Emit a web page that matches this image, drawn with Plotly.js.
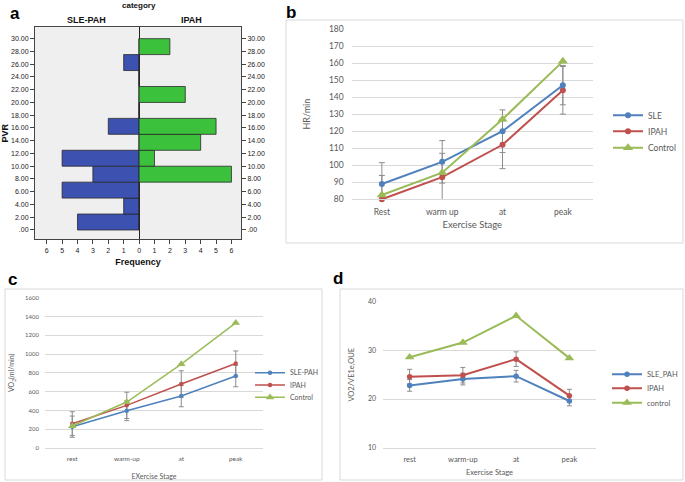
<!DOCTYPE html>
<html>
<head>
<meta charset="utf-8">
<script src="https://cdn.plot.ly/plotly-3.0.1.min.js"></script>
<style>html,body{margin:0;padding:0;background:#fff;}#chart{width:685px;height:482px;}</style>
</head>
<body>
<div id="chart"></div>
<script>
// ---------- Panel a: PVR population pyramid ----------
const pvrBinCenters = [1.25, 3.75, 6.25, 8.75, 11.25, 13.75, 16.25, 18.75, 21.25, 23.75, 26.25, 28.75];
const pvrBinWidth = 2.5;
const pvrSLE  = [4, 1, 5, 3, 5, 0, 2, 0, 0, 0, 1, 0];
const pvrIPAH = [0, 0, 0, 6, 1, 4, 5, 0, 3, 0, 0, 2];
const pvrTickVals = [0, 2, 4, 6, 8, 10, 12, 14, 16, 18, 20, 22, 24, 26, 28, 30];
const pvrTickText = ['.00','2.00','4.00','6.00','8.00','10.00','12.00','14.00','16.00','18.00','20.00','22.00','24.00','26.00','28.00','30.00'];
const freqTickVals = [-6,-5,-4,-3,-2,-1,0,1,2,3,4,5,6];
const freqTickText = ['6','5','4','3','2','1','0','1','2','3','4','5','6'];

// ---------- Panel b: HR ----------
const stagesB = ['Rest', 'warm up', 'at', 'peak'];
const hrSLE = [89, 102, 120, 147];
const hrSLEerr = [12.5, 12.5, 12.5, 11.5];
const hrIPAH = [80, 93, 112, 144];
const hrIPAHerr = [14, 14, 14, 14];
const hrControl = [82.5, 95.6, 127, 161];

// ---------- Panel c: VO2 ----------
const stagesC = ['rest', 'warm-up', 'at', 'peak'];
const vo2SLE = [227, 397, 553, 766];
const vo2SLEerr = [113, 106, 114, 114];
const vo2IPAH = [259, 454, 681, 899];
const vo2IPAHerr = [127, 140, 141, 134];
const vo2Control = [234, 489, 894, 1333];

// ---------- Panel d: VO2/VE ----------
const stagesD = ['rest', 'warm-up', 'at', 'peak'];
const veSLE = [22.8, 24.1, 24.7, 19.6];
const veSLEerr = [1.2, 1.2, 1.2, 1.0];
const veIPAH = [24.6, 24.9, 28.2, 20.7];
const veIPAHerr = [1.5, 1.6, 1.5, 1.3];
const veControl = [28.6, 31.6, 37.1, 28.4];

const W = 685, H = 482;
const px = v => v / W;
const py = v => 1 - v / H;

const BLUE = '#4F81BD', RED = '#C0504D', GREEN = '#9BBB59', ERR = '#8C8C8C';
const XL = 'Lato, "Liberation Sans", sans-serif';
const AR = '"Liberation Sans", Arial, sans-serif';
const TXT = '#595959';

function errTrace(xa, ya, x, y, e, cap) {
  return {type: 'scatter', mode: 'markers', xaxis: xa, yaxis: ya, x: x, y: y,
    marker: {size: 1, opacity: 0}, showlegend: false, hoverinfo: 'skip', cliponaxis: true,
    error_y: {type: 'data', array: e, visible: true, color: ERR, thickness: 1, width: cap}};
}
function lineTrace(xa, ya, x, y, name, color, sym, size, lw, leg) {
  return {type: 'scatter', mode: 'lines+markers', xaxis: xa, yaxis: ya, x: x, y: y, name: name,
    line: {color: color, width: lw}, marker: {color: color, symbol: sym, size: size},
    cliponaxis: false, legend: leg};
}

const data = [
  // panel a
  {type: 'bar', orientation: 'h', xaxis: 'x', yaxis: 'y', y: pvrBinCenters, x: pvrSLE.map(v => -v),
   width: pvrBinWidth, name: 'SLE-PAH', showlegend: false,
   marker: {color: '#3D51B0', line: {color: '#2a2a2a', width: 0.8}}},
  {type: 'bar', orientation: 'h', xaxis: 'x', yaxis: 'y', y: pvrBinCenters, x: pvrIPAH,
   width: pvrBinWidth, name: 'IPAH', showlegend: false,
   marker: {color: '#3CC13C', line: {color: '#2a2a2a', width: 0.8}}},
  {type: 'scatter', mode: 'markers', xaxis: 'x', yaxis: 'y2', x: [null], y: [null], showlegend: false, hoverinfo: 'skip'},
  // panel b
  errTrace('x2', 'y3', stagesB, hrSLE, hrSLEerr, 3),
  errTrace('x2', 'y3', stagesB, hrIPAH, hrIPAHerr, 3),
  lineTrace('x2', 'y3', stagesB, hrIPAH, 'IPAH', RED, 'circle', 6, 2, 'legend2'),
  lineTrace('x2', 'y3', stagesB, hrSLE, 'SLE', BLUE, 'circle', 6, 2, 'legend'),
  lineTrace('x2', 'y3', stagesB, hrControl, 'Control', GREEN, 'triangle-up', 9, 2, 'legend3'),
  // panel c
  errTrace('x3', 'y4', stagesC, vo2SLE, vo2SLEerr, 2.5),
  errTrace('x3', 'y4', stagesC, vo2IPAH, vo2IPAHerr, 2.5),
  lineTrace('x3', 'y4', stagesC, vo2SLE, 'SLE-PAH', BLUE, 'circle', 4.5, 1.5, 'legend4'),
  lineTrace('x3', 'y4', stagesC, vo2IPAH, 'IPAH', RED, 'circle', 4.5, 1.5, 'legend5'),
  lineTrace('x3', 'y4', stagesC, vo2Control, 'Control', GREEN, 'triangle-up', 7.5, 1.5, 'legend6'),
  // panel d
  errTrace('x4', 'y5', stagesD, veSLE, veSLEerr, 2.5),
  errTrace('x4', 'y5', stagesD, veIPAH, veIPAHerr, 2.5),
  lineTrace('x4', 'y5', stagesD, veSLE, 'SLE_PAH', BLUE, 'circle', 5.5, 2, 'legend7'),
  lineTrace('x4', 'y5', stagesD, veIPAH, 'IPAH', RED, 'circle', 5.5, 2, 'legend8'),
  lineTrace('x4', 'y5', stagesD, veControl, 'control', GREEN, 'triangle-up', 8.5, 2, 'legend9')
];

function leg(x, y, size) {
  return {x: px(x), y: py(y), xanchor: 'left', yanchor: 'middle', bgcolor: 'rgba(0,0,0,0)',
    borderwidth: 0, font: {family: XL, size: size, color: TXT}, itemclick: false, itemdoubleclick: false};
}

function catAxis(domain, anchor, size, standoff, title, tsize) {
  return {domain: domain, anchor: anchor, type: 'category', range: [-0.5, 3.5], showgrid: false,
    showline: true, linecolor: '#D9D9D9', linewidth: 1, ticks: '', zeroline: false, fixedrange: true,
    tickfont: {family: XL, size: size, color: TXT}, ticklabelstandoff: 4,
    title: {text: title, standoff: standoff, font: {family: XL, size: tsize, color: TXT}}};
}
function valAxis(domain, anchor, range, dtick, size, standoff, title, tsize, tls) {
  return {domain: domain, anchor: anchor, range: range, dtick: dtick, showgrid: true, gridcolor: '#D9D9D9',
    gridwidth: 1, showline: false, zeroline: false, ticks: '', fixedrange: true,
    tickfont: {family: XL, size: size, color: TXT}, ticklabelstandoff: tls,
    title: {text: title, standoff: standoff, font: {family: XL, size: tsize, color: TXT}}};
}
function ann(text, x, y, size, color, bold) {
  return {text: text, x: px(x), y: py(y), xref: 'paper', yref: 'paper', xanchor: 'center', yanchor: 'middle',
    showarrow: false, font: {family: AR, size: size, color: color, weight: bold ? 'bold' : 'normal'}};
}

const layout = {
  width: W, height: H, margin: {l: 0, r: 0, t: 0, b: 0},
  paper_bgcolor: '#ffffff', plot_bgcolor: 'rgba(0,0,0,0)',
  barmode: 'relative', bargap: 0, showlegend: true, hovermode: false,
  // panel a
  xaxis: {domain: [px(35), px(241)], anchor: 'y', range: [-6.76, 6.62], tickvals: freqTickVals, ticktext: freqTickText,
    ticks: 'outside', ticklen: 4, tickcolor: '#444', showline: true, linecolor: '#444', linewidth: 1, mirror: true,
    zeroline: true, zerolinecolor: '#222', zerolinewidth: 1, showgrid: false, fixedrange: true,
    tickfont: {family: AR, size: 7, color: '#222'},
    title: {text: 'Frequency', standoff: 5, font: {family: AR, size: 9, color: '#111', weight: 'bold'}}},
  yaxis: {domain: [py(239.3), py(27.3)], anchor: 'x', range: [-1.46, 31.78], tickvals: pvrTickVals, ticktext: pvrTickText,
    ticks: 'outside', ticklen: 4, tickcolor: '#444', showline: true, linecolor: '#444', linewidth: 1,
    showgrid: false, zeroline: false, fixedrange: true, tickfont: {family: AR, size: 7, color: '#222'},
    title: {text: 'PVR', standoff: 4, font: {family: AR, size: 9, color: '#111', weight: 'bold'}}},
  yaxis2: {overlaying: 'y', side: 'right', anchor: 'x', range: [-1.46, 31.78], tickvals: pvrTickVals, ticktext: pvrTickText,
    ticks: 'outside', ticklen: 4, tickcolor: '#444', showline: true, linecolor: '#444', linewidth: 1,
    showgrid: false, zeroline: false, fixedrange: true, tickfont: {family: AR, size: 7, color: '#222'}},
  // panel b
  xaxis2: catAxis([px(351.7), px(593)], 'y3', 8.5, 5, 'Exercise Stage', 9.5),
  yaxis3: valAxis([py(199.3), py(29)], 'x2', [80, 180], 10, 8.5, 16, 'HR/min', 9, 7),
  // panel c
  xaxis3: catAxis([px(45), px(263)], 'y4', 6.5, 13, 'EXercise Stage', 7),
  yaxis4: valAxis([py(448), py(297.7)], 'x3', [0, 1600], 200, 6, 9, 'VO<sub>2</sub>(ml/min)', 7, 5),
  // panel d
  xaxis4: catAxis([px(383), px(596)], 'y5', 7.5, 7, 'Exercise Stage', 7.5),
  yaxis5: valAxis([py(447.7), py(301.7)], 'x4', [10, 40], 10, 7, 12, 'VO2/VE1e,OUE', 7.5, 6),
  legend: leg(608, 115.3, 8.5),
  legend2: leg(608, 131.3, 8.5),
  legend3: leg(608, 147.7, 8.5),
  legend4: leg(250, 372.7, 7),
  legend5: leg(250, 385, 7),
  legend6: leg(250, 397.3, 7),
  legend7: leg(607, 374.3, 7.5),
  legend8: leg(607, 388.3, 7.5),
  legend9: leg(607, 402.7, 7.5),
  shapes: [
    {type: 'rect', xref: 'paper', yref: 'paper', x0: px(35), x1: px(241), y0: py(239.3), y1: py(27.3),
     fillcolor: '#EFEFEF', line: {width: 0}, layer: 'below'},
    {type: 'rect', xref: 'paper', yref: 'paper', x0: px(286), x1: px(683), y0: py(243), y1: py(20),
     line: {color: '#D9D9D9', width: 1}, layer: 'below'},
    {type: 'rect', xref: 'paper', yref: 'paper', x0: px(5), x1: px(322), y0: py(480), y1: py(289),
     line: {color: '#D9D9D9', width: 1}, layer: 'below'},
    {type: 'rect', xref: 'paper', yref: 'paper', x0: px(340), x1: px(683), y0: py(480), y1: py(289),
     line: {color: '#D9D9D9', width: 1}, layer: 'below'}
  ],
  annotations: [
    ann('a', 15, 13, 17, '#000', true),
    ann('b', 291, 12, 17, '#000', true),
    ann('c', 12, 279, 17, '#000', true),
    ann('d', 338, 278, 17, '#000', true),
    ann('category', 139, 5.5, 8, '#111', true),
    ann('SLE-PAH', 87, 20.5, 9, '#111', true),
    ann('IPAH', 191, 20.5, 9, '#111', true)
  ]
};

Plotly.newPlot('chart', data, layout, {displayModeBar: false, staticPlot: true});
</script>
</body>
</html>
